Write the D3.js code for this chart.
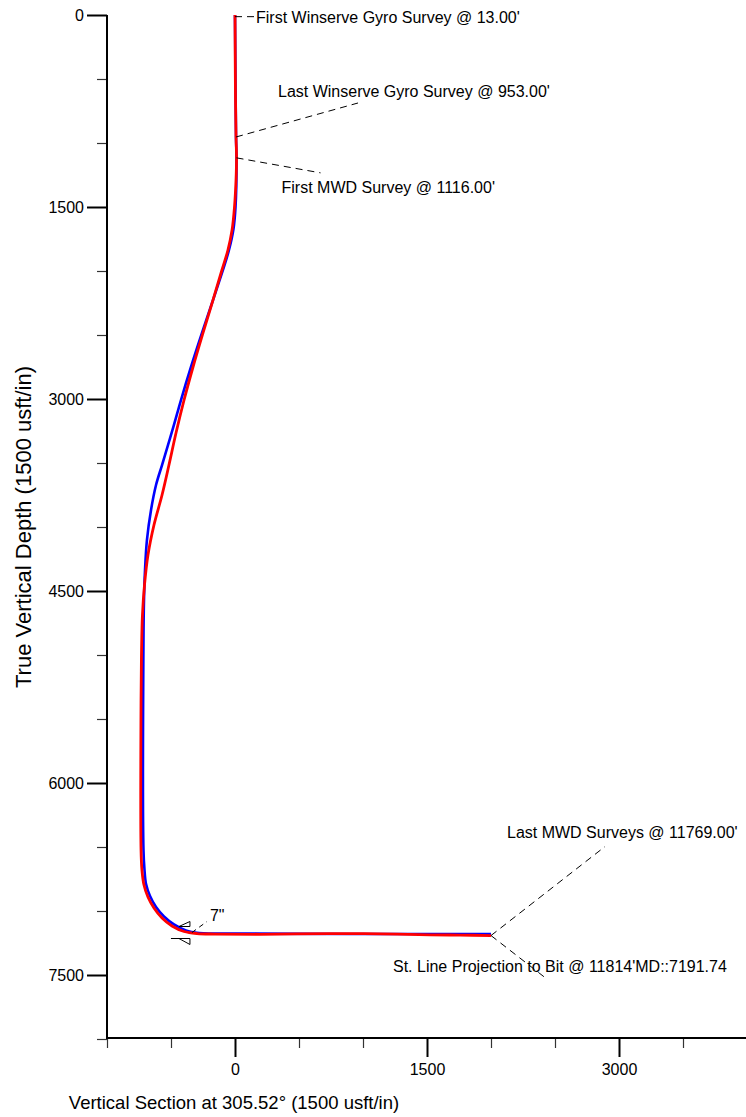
<!DOCTYPE html>
<html>
<head>
<meta charset="utf-8">
<script src="https://cdn.jsdelivr.net/npm/d3@7"></script>
<style>
  html, body { margin: 0; padding: 0; background: #fff; }
  svg { display: block; }
  text { font-family: "Liberation Sans", Arial, sans-serif; fill: #000; }
</style>
</head>
<body>
<svg id="chart" width="746" height="1117"></svg>
<script>
// Planned well path: vertical section (usft) and true vertical depth (usft)
const planVS  = [0, 8, 12, 4, -12, -47, -94, -172, -258, -344, -422, -477, -523, -570, -617, -656, -688, -703, -711, -715, -715, -707, -695, -664, -617, -555, -477, -383, -281, -156, 2000];
const planTVD = [0, 953, 1133, 1500, 1672, 1836, 1992, 2227, 2484, 2750, 3008, 3203, 3359, 3516, 3672, 3867, 4102, 4336, 4570, 4883, 6523, 6680, 6789, 6883, 6969, 7043, 7105, 7152, 7172, 7176, 7180];

// Actual surveyed path (incl. projection to bit)
const actualVS  = [0, 4, 8, 12, 8, -4, -23, -55, -102, -172, -250, -328, -398, -461, -516, -570, -633, -680, -707, -723, -730, -734, -734, -727, -711, -680, -633, -570, -492, -398, -297, -156, 195, 742, 1133, 1523, 1758, 2000];
const actualTVD = [0, 664, 953, 1117, 1289, 1500, 1680, 1836, 1992, 2227, 2484, 2750, 3008, 3266, 3516, 3750, 3984, 4219, 4453, 4688, 4961, 5352, 6523, 6680, 6797, 6891, 6977, 7055, 7117, 7160, 7176, 7180, 7182, 7176, 7178, 7186, 7188, 7191.74];

// Survey annotations
const noteText = [
  "First Winserve Gyro Survey @ 13.00'",
  "Last Winserve Gyro Survey @ 953.00'",
  "First MWD Survey @ 1116.00'",
  "Last MWD Surveys @ 11769.00'",
  "St. Line Projection to Bit @ 11814'MD::7191.74"
];
const noteVS  = [0, 8, 12, 2000, 2000];
const noteTVD = [13, 953, 1116, 7191.74, 7191.74];

// Casing point
const casingLabel = ['7"'];
const casingVS  = [-352];
const casingTVD = [7168];

// Axis ticks
const yMajor = [0, 1500, 3000, 4500, 6000, 7500];
const yMinor = [500, 1000, 2000, 2500, 3500, 4000, 5000, 5500, 6500, 7000, 8000];
const xMajor = [0, 1500, 3000];
const xMinor = [-1000, -500, 500, 1000, 2000, 2500, 3500];

const xTitle = "Vertical Section at 305.52\u00b0 (1500 usft/in)";
const yTitle = "True Vertical Depth (1500 usft/in)";

const svg = d3.select("#chart");

const x = d3.scaleLinear().domain([-1000, 4000]).range([107, 747]);
const y = d3.scaleLinear().domain([0, 8000]).range([15, 1039]);

// ---- axes ----
const yMinorAxis = d3.axisLeft(y).tickValues(yMinor).tickSize(10).tickFormat("");
const yMajorAxis = d3.axisLeft(y).tickValues(yMajor).tickSize(20).tickPadding(3).tickFormat(d3.format("d"));
const xMinorAxis = d3.axisBottom(x).tickValues(xMinor).tickSize(10).tickFormat("");
const xMajorAxis = d3.axisBottom(x).tickValues(xMajor).tickSize(19).tickPadding(7).tickFormat(d3.format("d"));

function styleAxis(g, w, col) {
  g.select(".domain").remove();
  g.selectAll(".tick line").attr("stroke", col).attr("stroke-width", w);
  g.selectAll(".tick text").style("font-size", "16px").attr("fill", "#000")
    .style("font-family", '"Liberation Sans", Arial, sans-serif');
}

svg.append("g").attr("transform", "translate(107,0)").call(yMinorAxis).call(g => styleAxis(g, 1.2, "#333"));
svg.append("g").attr("transform", "translate(107,0)").call(yMajorAxis).call(g => styleAxis(g, 2, "#000"));
svg.append("g").attr("transform", "translate(0,1038)").call(xMinorAxis).call(g => styleAxis(g, 1.2, "#333"));
svg.append("g").attr("transform", "translate(0,1038)").call(xMajorAxis).call(g => styleAxis(g, 2, "#000"));

// axis lines
svg.append("line").attr("x1", 107).attr("x2", 107).attr("y1", y(0)).attr("y2", 1039)
  .attr("stroke", "#000").attr("stroke-width", 2);
svg.append("line").attr("x1", 106).attr("x2", 746).attr("y1", 1038).attr("y2", 1038)
  .attr("stroke", "#000").attr("stroke-width", 2);

// axis titles
svg.append("text").attr("x", 234).attr("y", 1109).attr("text-anchor", "middle")
  .style("font-size", "18.5px").text(xTitle);
svg.append("text").attr("transform", "translate(31,527) rotate(-90)").attr("text-anchor", "middle")
  .style("font-size", "22px").text(yTitle);

// ---- well paths ----
const line = d3.line().curve(d3.curveCatmullRom.alpha(0.5));
const planPts = planVS.map((v, i) => [x(v), y(planTVD[i])]);
const actualPts = actualVS.map((v, i) => [x(v), y(actualTVD[i])]);

svg.append("path").attr("d", line(planPts)).attr("fill", "none")
  .attr("stroke", "#0000ff").attr("stroke-width", 2.6).attr("stroke-linejoin", "round");
svg.append("path").attr("d", line(actualPts)).attr("fill", "none")
  .attr("stroke", "#ff0000").attr("stroke-width", 2.8).attr("stroke-linejoin", "round");

// ---- annotations ----
// leader end offsets and label placement, in pixels relative to the survey point
const leaderEnd = [[20, 0], [122, -34], [84, 15], [114, -89], [54, 42]];
const labelOff  = [[21, 6], [42, -40], [45, 35], [16, -98], [-98, 36]];

noteText.forEach((t, i) => {
  const px = x(noteVS[i]), py = y(noteTVD[i]);
  svg.append("line")
    .attr("x1", px).attr("y1", py)
    .attr("x2", px + leaderEnd[i][0]).attr("y2", py + leaderEnd[i][1])
    .attr("stroke", "#000").attr("stroke-width", 1).attr("stroke-dasharray", "7,5");
  svg.append("text")
    .attr("x", px + labelOff[i][0]).attr("y", py + labelOff[i][1])
    .style("font-size", "16px").text(t);
});

// casing shoe symbol and label
casingLabel.forEach((t, i) => {
  const cx = x(casingVS[i]), cy = y(casingTVD[i]);
  const g = svg.append("g").attr("fill", "none").attr("stroke", "#000").attr("stroke-width", 1);
  g.append("path").attr("d", `M${cx - 11},${cy - 6} L${cx},${cy - 6} L${cx},${cy - 11} Z`);
  g.append("path").attr("d", `M${cx - 19},${cy + 6} L${cx},${cy + 6} L${cx},${cy + 12} L${cx - 11},${cy + 6}`);
  svg.append("line").attr("x1", cx + 2).attr("y1", cy).attr("x2", cx + 17).attr("y2", cy - 11)
    .attr("stroke", "#000").attr("stroke-width", 1).attr("stroke-dasharray", "5,4");
  svg.append("text").attr("x", cx + 20).attr("y", cy - 12).style("font-size", "16px").text(t);
});
</script>
</body>
</html>
